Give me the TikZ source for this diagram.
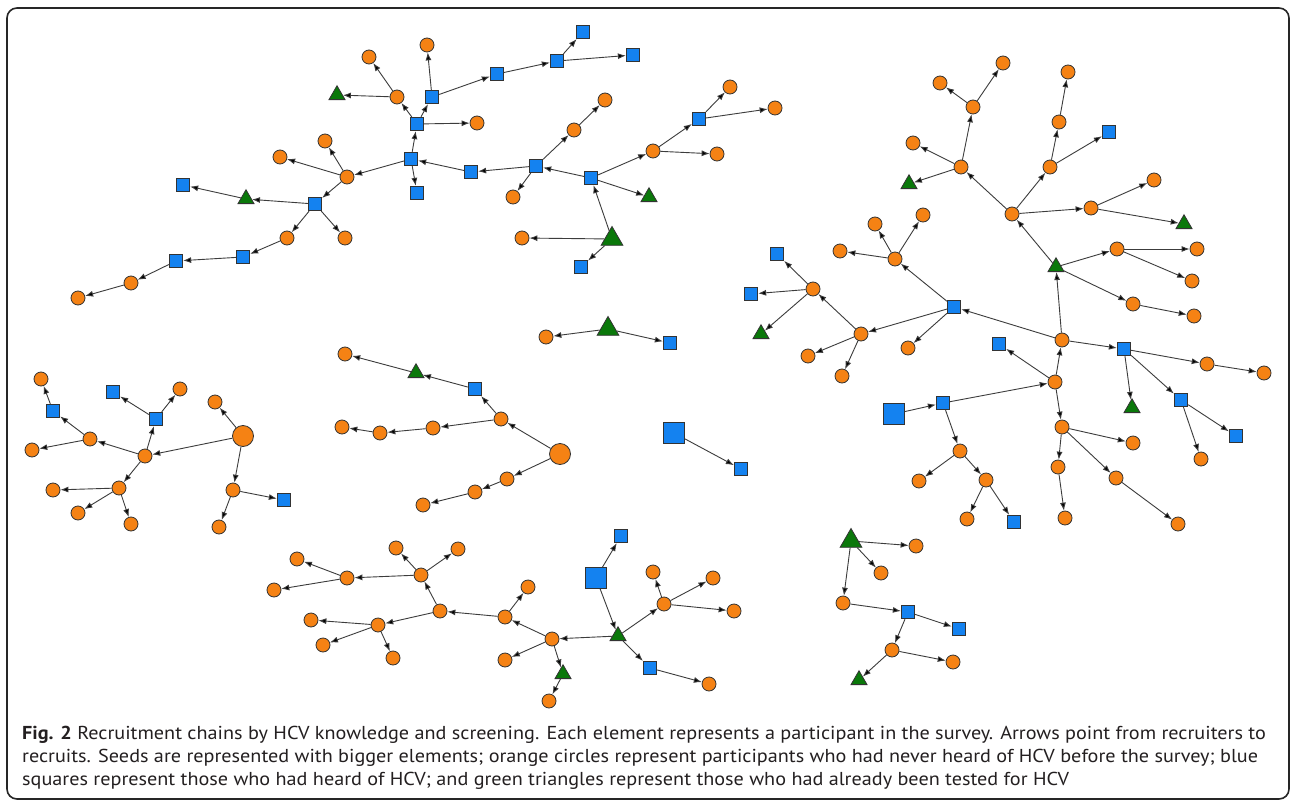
\documentclass[tikz,border=0pt]{standalone}
\usepackage{fontspec}
\setmainfont{PT Sans}[FakeStretch=1.08]
\usetikzlibrary{arrows.meta,shapes.geometric}
\definecolor{orng}{RGB}{245,130,20}
\definecolor{blu}{RGB}{20,130,240}
\definecolor{grn}{RGB}{10,120,10}
\definecolor{edg}{RGB}{60,60,60}
\definecolor{txt}{RGB}{35,31,32}
\begin{document}
\begin{tikzpicture}[x=1pt,y=-1pt,
 oc/.style={circle,draw=black!80,fill=orng,line width=0.8pt,minimum size=14pt,inner sep=0pt},
 boc/.style={oc,minimum size=21pt},
 bs/.style={rectangle,draw=black!80,fill=blu,line width=0.8pt,minimum size=13.5pt,inner sep=0pt},
 bbs/.style={bs,minimum size=21pt},
 gt/.style={regular polygon,regular polygon sides=3,draw=black!80,fill=grn,line width=0.8pt,minimum size=18.5pt,inner sep=0pt},
 bgt/.style={gt,minimum size=25pt},
 rec/.style={draw=edg,line width=0.9pt,-{Latex[length=8pt,width=6pt,fill=black]}},
 captxt/.style={anchor=base west,inner sep=0pt,text=txt,font=\fontsize{18.7}{22}\selectfont}
]
\useasboundingbox (0,0) rectangle (1292,805);
\fill[white] (0,0) rectangle (1292,805);
\draw[line width=1.6pt,rounded corners=10pt,black!85] (7,8) rectangle (1289,799);

% Component A
\node[bgt] (a0) at (612,239) {};
\node[oc] (a1) at (522,238) {};
\node[bs] (a2) at (581,267) {};
\node[bs] (a3) at (591,178) {};
\node[bs] (a4) at (536,166) {};
\node[oc] (a5) at (653,151) {};
\node[gt] (a6) at (649,197) {};
\node[bs] (a7) at (699,119) {};
\node[oc] (a8) at (717,154) {};
\node[oc] (a9) at (730,87) {};
\node[oc] (a10) at (775,108) {};
\node[oc] (a11) at (574,130) {};
\node[oc] (a12) at (605,100) {};
\node[oc] (a13) at (513,197) {};
\node[bs] (a14) at (471,172) {};
\node[bs] (a15) at (411,159) {};
\node[bs] (a16) at (417,124) {};
\node[bs] (a17) at (417,193) {};
\node[oc] (a18) at (347,177) {};
\node[oc] (a19) at (397,97) {};
\node[bs] (a20) at (432,97) {};
\node[oc] (a21) at (477,123) {};
\node[oc] (a22) at (427,45) {};
\node[bs] (a23) at (497,74) {};
\node[bs] (a24) at (557,61) {};
\node[bs] (a25) at (583,32) {};
\node[bs] (a26) at (633,55) {};
\node[gt] (a27) at (337,95) {};
\node[oc] (a28) at (369,57) {};
\node[oc] (a29) at (325,141) {};
\node[oc] (a30) at (280,157) {};
\node[bs] (a31) at (315,204) {};
\node[gt] (a32) at (246,199) {};
\node[bs] (a33) at (183,185) {};
\node[oc] (a34) at (287,238) {};
\node[oc] (a35) at (345,238) {};
\node[bs] (a36) at (243,257) {};
\node[bs] (a37) at (176,261) {};
\node[oc] (a38) at (131,283) {};
\node[oc] (a39) at (78,298) {};
\foreach \s/\t in {a0/a1,a0/a2,a0/a3,a3/a4,a3/a5,a3/a6,a5/a7,a5/a8,a7/a9,a7/a10,
 a4/a11,a4/a13,a4/a14,a11/a12,a14/a15,a15/a16,a15/a17,a15/a18,a16/a19,a16/a20,a16/a21,
 a20/a22,a20/a23,a23/a24,a24/a25,a24/a26,a19/a27,a19/a28,a18/a29,a18/a30,a18/a31,
 a31/a32,a31/a34,a31/a35,a32/a33,a34/a36,a36/a37,a37/a38,a38/a39}
 \draw[rec] (\s) -- (\t);

% Component B
\node[bbs] (b0) at (894,414) {};
\node[bs] (b1) at (943,403) {};
\node[oc] (b2) at (1055,382) {};
\node[oc] (b3) at (960,451) {};
\node[oc] (b4) at (1062,340) {};
\node[bs] (b5) at (999,344) {};
\node[oc] (b6) at (1062,427) {};
\node[bs] (b7) at (954,307) {};
\node[bs] (b8) at (1124,349) {};
\node[gt] (b9) at (1056,267) {};
\node[oc] (b10) at (1207,364) {};
\node[oc] (b11) at (1264,373) {};
\node[gt] (b12) at (1132,408) {};
\node[bs] (b13) at (1181,400) {};
\node[bs] (b14) at (1236,436) {};
\node[oc] (b15) at (1201,459) {};
\node[oc] (b16) at (1133,443) {};
\node[oc] (b17) at (1058,467) {};
\node[oc] (b18) at (1065,518) {};
\node[oc] (b19) at (1116,478) {};
\node[oc] (b20) at (1178,524) {};
\node[oc] (b21) at (919,481) {};
\node[oc] (b22) at (986,480) {};
\node[oc] (b23) at (967,519) {};
\node[bs] (b24) at (1014,522) {};
\node[oc] (b25) at (861,334) {};
\node[oc] (b26) at (908,348) {};
\node[oc] (b27) at (813,289) {};
\node[oc] (b28) at (808,356) {};
\node[oc] (b29) at (842,376) {};
\node[bs] (b30) at (777,254) {};
\node[bs] (b31) at (751,294) {};
\node[gt] (b32) at (761,334) {};
\node[oc] (b33) at (1012,214) {};
\node[oc] (b34) at (1117,249) {};
\node[oc] (b35) at (1133,304) {};
\node[oc] (b36) at (1197,249) {};
\node[oc] (b37) at (1192,281) {};
\node[oc] (b38) at (1194,316) {};
\node[oc] (b39) at (961,167) {};
\node[oc] (b40) at (1050,167) {};
\node[oc] (b41) at (1091,208) {};
\node[oc] (b42) at (1154,180) {};
\node[gt] (b43) at (1184,224) {};
\node[oc] (b44) at (1059,122) {};
\node[bs] (b45) at (1109,132) {};
\node[oc] (b46) at (1068,72) {};
\node[oc] (b47) at (973,107) {};
\node[oc] (b48) at (913,143) {};
\node[gt] (b49) at (909,184) {};
\node[oc] (b50) at (940,83) {};
\node[oc] (b51) at (1003,63) {};
\node[oc] (b52) at (895,259) {};
\node[oc] (b53) at (840,251) {};
\node[oc] (b54) at (875,224) {};
\node[oc] (b55) at (923,215) {};
\foreach \s/\t in {b0/b1,b1/b2,b1/b3,b2/b4,b2/b5,b2/b6,b4/b7,b4/b8,b4/b9,
 b8/b10,b8/b12,b8/b13,b10/b11,b13/b14,b13/b15,b6/b16,b6/b17,b6/b19,b17/b18,b19/b20,
 b3/b21,b3/b22,b22/b23,b22/b24,b7/b25,b7/b26,b7/b52,b25/b27,b25/b28,b25/b29,
 b27/b30,b27/b31,b27/b32,b9/b33,b9/b34,b9/b35,b34/b36,b34/b37,b35/b38,
 b33/b39,b33/b40,b33/b41,b41/b42,b41/b43,b40/b44,b40/b45,b44/b46,
 b39/b47,b39/b48,b39/b49,b47/b50,b47/b51,b52/b53,b52/b54,b52/b55}
 \draw[rec] (\s) -- (\t);

% Component C
\node[bgt] (c0) at (608,329) {};
\node[oc] (c1) at (546,337) {};
\node[bs] (c2) at (670,343) {};
\draw[rec] (c0) -- (c1);
\draw[rec] (c0) -- (c2);

% Component D
\node[boc] (d0) at (243,436) {};
\node[oc] (d1) at (215,402) {};
\node[oc] (d2) at (145,456) {};
\node[oc] (d3) at (233,490) {};
\node[bs] (d4) at (284,500) {};
\node[oc] (d5) at (219,527) {};
\node[bs] (d6) at (156,419) {};
\node[oc] (d7) at (90,439) {};
\node[oc] (d8) at (119,488) {};
\node[bs] (d9) at (113,392) {};
\node[oc] (d10) at (180,389) {};
\node[bs] (d11) at (53,411) {};
\node[oc] (d12) at (32,450) {};
\node[oc] (d13) at (41,379) {};
\node[oc] (d14) at (53,490) {};
\node[oc] (d15) at (78,513) {};
\node[oc] (d16) at (131,524) {};
\foreach \s/\t in {d0/d1,d0/d2,d0/d3,d3/d4,d3/d5,d2/d6,d2/d7,d2/d8,d6/d9,d6/d10,
 d7/d11,d7/d12,d11/d13,d8/d14,d8/d15,d8/d16}
 \draw[rec] (\s) -- (\t);

% Component E
\node[boc] (e0) at (560,454) {};
\node[oc] (e1) at (501,419) {};
\node[bs] (e2) at (475,389) {};
\node[oc] (e3) at (433,428) {};
\node[gt] (e4) at (416,373) {};
\node[oc] (e5) at (345,354) {};
\node[oc] (e6) at (380,433) {};
\node[oc] (e7) at (342,427) {};
\node[oc] (e8) at (507,479) {};
\node[oc] (e9) at (475,492) {};
\node[oc] (e10) at (423,505) {};
\foreach \s/\t in {e0/e1,e0/e8,e1/e2,e1/e3,e2/e4,e4/e5,e3/e6,e6/e7,e8/e9,e9/e10}
 \draw[rec] (\s) -- (\t);

% Component F
\node[bbs] (f0) at (674,433) {};
\node[bs] (f1) at (741,469) {};
\draw[rec] (f0) -- (f1);

% Component G
\node[bbs] (g0) at (596,578) {};
\node[bs] (g1) at (621,536) {};
\node[gt] (g2) at (618,636) {};
\node[oc] (g3) at (664,604) {};
\node[oc] (g4) at (552,639) {};
\node[bs] (g5) at (650,668) {};
\node[oc] (g6) at (653,572) {};
\node[oc] (g7) at (713,578) {};
\node[oc] (g8) at (734,611) {};
\node[oc] (g9) at (709,684) {};
\node[oc] (g10) at (505,617) {};
\node[oc] (g11) at (505,660) {};
\node[gt] (g12) at (563,674) {};
\node[oc] (g13) at (549,701) {};
\node[oc] (g14) at (528,587) {};
\node[oc] (g15) at (440,611) {};
\node[oc] (g16) at (421,575) {};
\node[oc] (g17) at (378,625) {};
\node[oc] (g18) at (458,549) {};
\node[oc] (g19) at (396,548) {};
\node[oc] (g20) at (347,578) {};
\node[oc] (g21) at (297,559) {};
\node[oc] (g22) at (274,590) {};
\node[oc] (g23) at (311,620) {};
\node[oc] (g24) at (323,645) {};
\node[oc] (g25) at (393,658) {};
\foreach \s/\t in {g0/g1,g0/g2,g2/g3,g2/g4,g2/g5,g3/g6,g3/g7,g3/g8,g5/g9,
 g4/g10,g4/g11,g4/g12,g12/g13,g10/g14,g10/g15,g15/g16,g15/g17,
 g16/g18,g16/g19,g16/g20,g20/g21,g20/g22,g17/g23,g17/g24,g17/g25}
 \draw[rec] (\s) -- (\t);

% Component H
\node[bgt] (h0) at (851,541) {};
\node[oc] (h1) at (916,546) {};
\node[oc] (h2) at (881,573) {};
\node[oc] (h3) at (843,603) {};
\node[bs] (h4) at (908,612) {};
\node[bs] (h5) at (959,629) {};
\node[oc] (h6) at (892,650) {};
\node[oc] (h7) at (953,662) {};
\node[gt] (h8) at (859,680) {};
\foreach \s/\t in {h0/h1,h0/h2,h0/h3,h3/h4,h4/h5,h4/h6,h6/h7,h6/h8}
 \draw[rec] (\s) -- (\t);

% Caption
\node[captxt] (cap1) at (22,739) {\textbf{Fig. 2} Recruitment chains by HCV knowledge and screening. Each element represents a participant in the survey. Arrows point from recruiters to};
\node[captxt] (cap2) at (22,762) {recruits. Seeds are represented with bigger elements; orange circles represent participants who had never heard of HCV before the survey; blue};
\node[captxt] (cap3) at (22,785) {squares represent those who had heard of HCV; and green triangles represent those who had already been tested for HCV};
\end{tikzpicture}
\end{document}
